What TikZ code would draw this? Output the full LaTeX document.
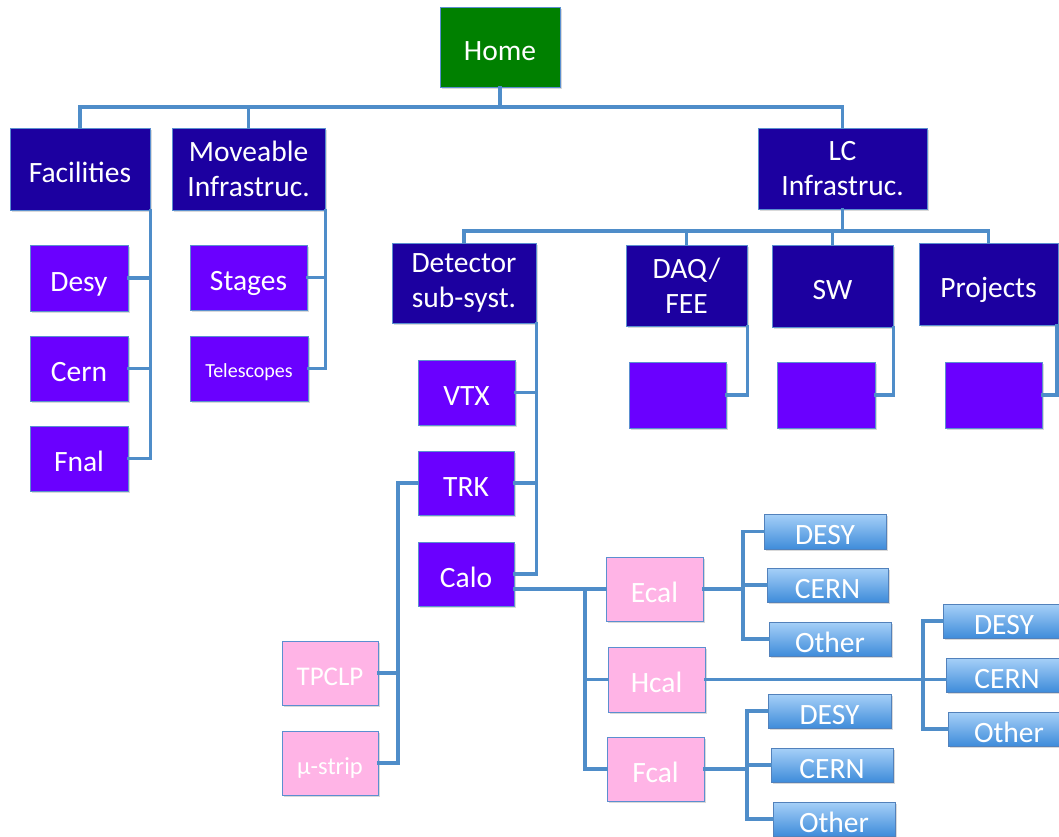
\documentclass[tikz,border=0pt]{standalone}
\usepackage{fontspec}
\setmainfont{Carlito}
\usetikzlibrary{shadows}
\definecolor{navyc}{HTML}{1C00A0}
\definecolor{purpc}{HTML}{6A00FF}
\definecolor{pinkc}{HTML}{FFB4E6}
\definecolor{greenc}{HTML}{008000}
\definecolor{linec}{HTML}{4F8DC9}
\definecolor{bordc}{HTML}{5B8FD0}
\definecolor{btop}{HTML}{A6D0F8}
\definecolor{bbot}{HTML}{3F8CDA}
\begin{document}
\begin{tikzpicture}[x=1pt,y=-1pt,
  base/.style={rectangle, draw=bordc, line width=0.9pt, text=white, align=center, inner sep=0pt,
    font=\fontsize{29.5}{35}\selectfont,
    drop shadow={shadow xshift=1.5pt, shadow yshift=-2pt, opacity=0.25, fill=black!60}},
  oneline/.style={execute at begin node={\rule{0pt}{1.15em}},
    execute at end node={\rule[-0.25em]{0pt}{0pt}}},
  twoline/.style={execute at begin node={\vspace*{4pt}}},
  sz/.style 2 args={minimum width=#1, minimum height=#2},
  navybox/.style={base, oneline, fill=navyc},
  navytwo/.style={base, twoline, fill=navyc},
  purpbox/.style={base, oneline, fill=purpc},
  pinkbox/.style={base, oneline, fill=pinkc},
  greenbox/.style={base, oneline, fill=greenc},
  bluebox/.style={base, top color=btop, bottom color=bbot, draw=bordc!90!black,
    execute at begin node={\rule{0pt}{1.0em}},
    execute at end node={\rule[-0.1em]{0pt}{0pt}}},
  conn/.style={draw=linec, line width=3.2pt, line cap=rect}]
\useasboundingbox (0,0) rectangle (1059,836);
% top level
\node[greenbox, sz={120pt}{80pt}] (home) at (500,47) {Home};
\node[navybox, sz={140pt}{82pt}] (fac) at (80,169) {Facilities};
\node[navytwo, sz={153pt}{82pt}] (mov) at (248.5,169) {Moveable\\Infrastruc.};
\node[navytwo, sz={169pt}{81pt}] (lc) at (842.5,168.5) {LC\\Infrastruc.};
% facilities
\node[purpbox, sz={98pt}{66pt}] (desy) at (79,278) {Desy};
\node[purpbox, sz={98pt}{65pt}] (cern) at (79,368.5) {Cern};
\node[purpbox, sz={98pt}{65pt}] (fnal) at (79,458.5) {Fnal};
% moveable
\node[purpbox, sz={117pt}{65pt}] (stages) at (248.5,277.5) {Stages};
\node[purpbox, sz={118pt}{65pt}, font=\fontsize{20}{24}\selectfont] (tele) at (249,368.5) {Telescopes};
% LC children
\node[navytwo, sz={144pt}{80pt}] (det) at (464,283) {Detector\\sub-syst.};
\node[navytwo, sz={121pt}{81pt}] (daq) at (686.5,285.5) {DAQ/\\FEE};
\node[navybox, sz={121pt}{82pt}] (sw) at (832.5,286) {SW};
\node[navybox, sz={139pt}{82pt}] (proj) at (988.5,284) {Projects};
\node[purpbox, sz={97pt}{66pt}] (e1) at (677.5,395) {};
\node[purpbox, sz={98pt}{66pt}] (e2) at (826,395) {};
\node[purpbox, sz={97pt}{66pt}] (e3) at (993.5,395) {};
% detector children
\node[purpbox, sz={97pt}{65pt}] (vtx) at (466.5,392.5) {VTX};
\node[purpbox, sz={96pt}{64pt}] (trk) at (466,483) {TRK};
\node[purpbox, sz={96pt}{64pt}] (calo) at (466,574) {Calo};
\node[pinkbox, sz={96pt}{64pt}, font=\fontsize{27}{32}\selectfont] (tpclp) at (330,673) {TPCLP};
\node[pinkbox, sz={96pt}{64pt}, font=\fontsize{24.5}{29}\selectfont] (mu) at (330,763) {μ-strip};
\node[pinkbox, sz={97pt}{64pt}] (ecal) at (654.5,589) {Ecal};
\node[pinkbox, sz={97pt}{65pt}] (hcal) at (656.5,679.5) {Hcal};
\node[pinkbox, sz={97pt}{64pt}] (fcal) at (655.5,769) {Fcal};
% site boxes
\node[bluebox, sz={122pt}{35pt}] (d1) at (825,531.5) {DESY};
\node[bluebox, sz={121pt}{34pt}] (c1) at (827.5,585) {CERN};
\node[bluebox, sz={122pt}{34pt}] (o1) at (830,639) {Other};
\node[bluebox, sz={122pt}{34pt}] (d2) at (1004,621) {DESY};
\node[bluebox, sz={122pt}{34pt}] (c2) at (1007,675) {CERN};
\node[bluebox, sz={122pt}{34pt}] (o2) at (1009,729) {Other};
\node[bluebox, sz={123pt}{34pt}] (d3) at (829.5,711) {DESY};
\node[bluebox, sz={122pt}{34pt}] (c3) at (832,765) {CERN};
\node[bluebox, sz={122pt}{34pt}] (o3) at (834,819) {Other};
% junction coordinates
\coordinate (bus) at (0,107);
\coordinate (bus2) at (0,231);
\coordinate (tk) at (398,0);
\coordinate (cj) at (585,0);
\coordinate (j1) at (743,0);
\coordinate (j2) at (923,0);
\coordinate (j3) at (747,0);
% connectors
\draw[conn] (fac.north) -- (fac.north |- bus) -- (lc.north |- bus) -- (lc.north);
\draw[conn] (home.south) -- (home.south |- bus);
\draw[conn] (mov.north) -- (mov.north |- bus);
\draw[conn] (fac.south east) |- (fnal.east);
\draw[conn] (desy.east) -- (desy.east -| fac.south east);
\draw[conn] (cern.east) -- (cern.east -| fac.south east);
\draw[conn] (mov.south east) |- (tele.east);
\draw[conn] (stages.east) -- (stages.east -| mov.south east);
\draw[conn] (lc.south) -- (lc.south |- bus2);
\draw[conn] (det.north) -- (det.north |- bus2) -- (proj.north |- bus2) -- (proj.north);
\draw[conn] (daq.north) -- (daq.north |- bus2);
\draw[conn] (sw.north) -- (sw.north |- bus2);
\draw[conn] (daq.south east) |- (e1.east);
\draw[conn] (sw.south east) |- (e2.east);
\draw[conn] ([xshift=-1.5pt]proj.south east) |- (e3.east);
\draw[conn] (det.south east) |- (calo.east);
\draw[conn] (vtx.east) -- (vtx.east -| det.south east);
\draw[conn] (trk.east) -- (trk.east -| det.south east);
\draw[conn] (trk.west) -- (trk.west -| tk) |- (mu.east);
\draw[conn] (tpclp.east) -- (tpclp.east -| tk);
\draw[conn] (calo.east |- ecal.west) -- (ecal.west);
\draw[conn] (ecal.west -| cj) |- (fcal.west);
\draw[conn] (hcal.west) -- (hcal.west -| cj);
\draw[conn] (ecal.east) -- (ecal.east -| j1);
\draw[conn] (d1.west) -- (d1.west -| j1) -- (o1.west -| j1) -- (o1.west);
\draw[conn] (c1.west) -- (c1.west -| j1);
\draw[conn] (hcal.east) -- (hcal.east -| c2.west);
\draw[conn] (d2.west) -- (d2.west -| j2) -- (o2.west -| j2) -- (o2.west);
\draw[conn] (fcal.east) -- (fcal.east -| j3);
\draw[conn] (d3.west) -- (d3.west -| j3) -- (o3.west -| j3) -- (o3.west);
\draw[conn] (c3.west) -- (c3.west -| j3);
\end{tikzpicture}
\end{document}
